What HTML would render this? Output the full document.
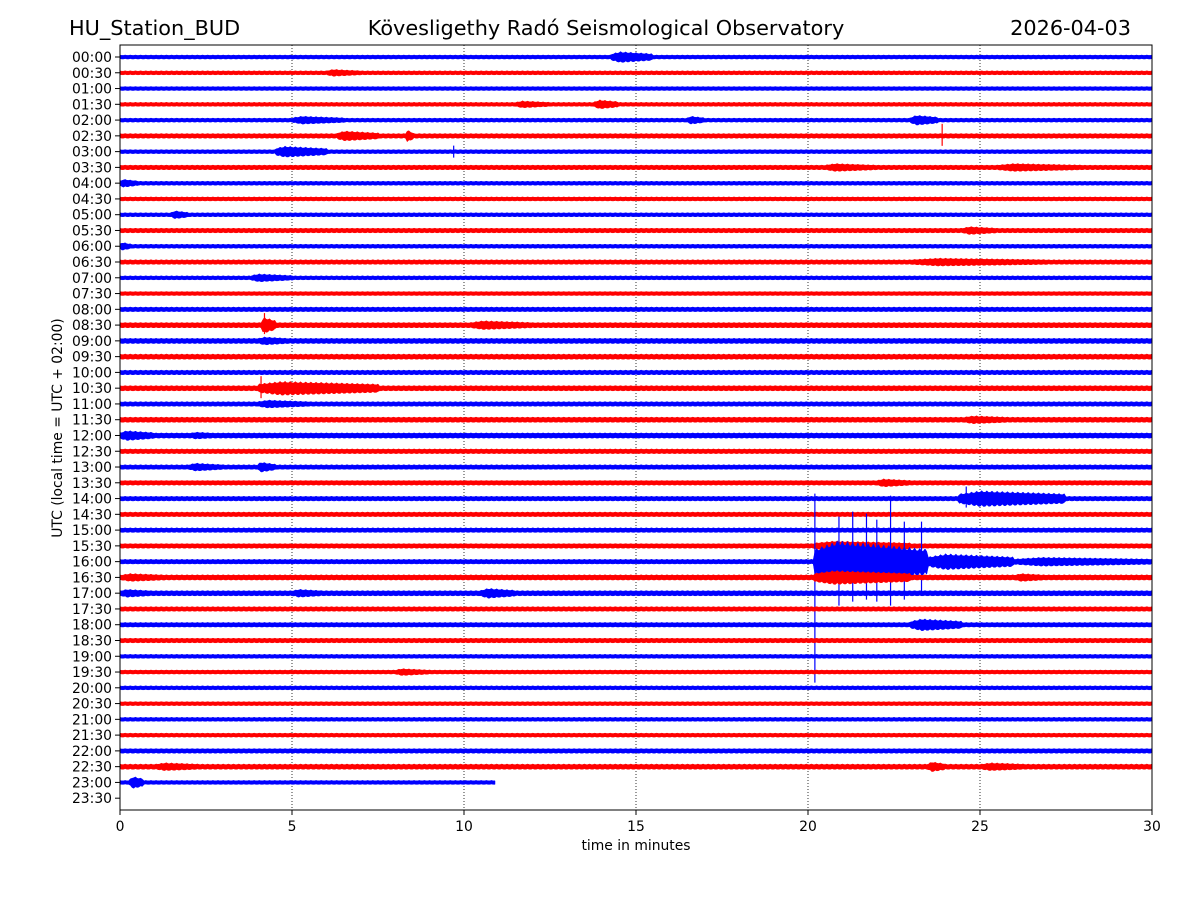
<!DOCTYPE html>
<html><head><meta charset="utf-8"><style>
html,body{margin:0;padding:0;background:#fff;}
svg{display:block;font-family:"DejaVu Sans","Liberation Sans",sans-serif;}
</style></head><body>
<svg id="chart" width="1200" height="900" viewBox="0 0 1200 900" xmlns="http://www.w3.org/2000/svg">
<rect width="1200" height="900" fill="#fff"/>
<text x="69" y="35" font-size="20.8">HU_Station_BUD</text>
<text x="606" y="35" font-size="20.8" text-anchor="middle">Kövesligethy Radó Seismological Observatory</text>
<text x="1131" y="35" font-size="20.8" text-anchor="end">2026-04-03</text>
<g id="grid"></g>
<g id="traces"></g>
<rect x="120" y="45" width="1032" height="765" fill="none" stroke="#000" stroke-width="1"/>
<g id="axes"></g>
<text x="636" y="850" font-size="13.9" text-anchor="middle">time in minutes</text>
<text transform="translate(62,428) rotate(-90)" font-size="13.9" text-anchor="middle">UTC (local time = UTC + 02:00)</text>
</svg>
<script>
const rowLabels=[];for(let h=0;h<24;h++){const s=String(h).padStart(2,'0');rowLabels.push(s+':00');rowLabels.push(s+':30');}
const xTicks=[0,5,10,15,20,25,30];
// base half-amplitude per row (px)
const baseAmp=[2,2,2,2,2,2.3,2,2.3,2,2,2,2.3,2,2.3,2,2,2.3,2.6,2.6,2.6,2.3,2.6,2.3,2.6,2.6,2.3,2.3,2.3,2.3,2.3,2.3,2.3,2.3,2.6,2.6,2.3,2.3,2.3,2,2,2,2,2,2,2.3,2.6,2];
// events: [row, startMin, endMin, halfAmp]
const events=[[0,14.3,15.5,5.5],[1,6,7,3.5],[3,11.5,12.5,3.5],[3,13.8,14.5,4.5],[4,5,6.5,4],[4,16.5,17,4],[4,23,23.8,5],
[5,6.3,7.5,5],[5,8.3,8.5,6],[6,4.5,6,5.5],[7,20.5,22,4],[7,25.5,28,4],[8,0,0.5,4],[10,1.5,2,4],[11,24.5,25.5,4],[12,0,0.3,4],
[13,23,27,4],[14,3.8,5,4],[17,4.1,4.5,8],[17,10.2,12,4.5],[18,4,5,4],[21,4,7.5,7],[22,4,5.5,4],[23,24.5,26,4],
[24,0,1,5],[24,2,3,3.5],[26,2,3,4],[26,4,4.5,5],[27,22,23,4],[28,24.4,27.5,8],[31,20.2,23,5],
[32,20.2,23.5,21],[32,23.5,26,8],[32,26,30,4.5],[33,0,1.5,4],[33,20.2,23,7],[33,26,27,4],[34,0,1,4],[34,5,6,4],[34,10.5,11.5,5],
[36,23,24.5,6],[39,8,9,3.5],[45,1,2.5,4],[45,23.5,24,5],[45,25,26.5,4],[46,0.3,0.7,6]];
// spikes: [row, minute, upPx, downPx]
const spikes=[[5,23.9,12,10],[6,9.7,6,6],[17,4.2,12,9],[21,4.1,12,10],[28,24.6,12,9],
[32,20.2,68,121],[32,20.9,45,44],[32,21.3,50,40],[32,21.7,48,38],[32,22.0,42,40],[32,22.4,66,44],[32,22.8,40,38],[32,23.3,40,30]];
const traceEnd=[];for(let i=0;i<48;i++)traceEnd.push(i===46?10.9:(i===47?0:30));

const NS='http://www.w3.org/2000/svg';
const x0=120,x1=1152,yTop=57,rowH=15.77;
const xs=m=>x0+m*(x1-x0)/30;
const ys=r=>yTop+r*rowH;
const grid=document.getElementById('grid'),tr=document.getElementById('traces'),ax=document.getElementById('axes');
function mk(tag,attrs,parent){const e=document.createElementNS(NS,tag);for(const k in attrs)e.setAttribute(k,attrs[k]);parent.appendChild(e);return e;}
xTicks.forEach(t=>{
 if(t>0&&t<30){const g=mk('line',{x1:xs(t),x2:xs(t),y1:45,y2:810,stroke:'#000','stroke-width':0.8,'stroke-dasharray':'1,2'},grid);
 
 }
 const tk=mk('line',{x1:xs(t),x2:xs(t),y1:810,y2:815,stroke:'#000'},ax);
 
 
 const lb=mk('text',{x:xs(t),y:831,'font-size':13.9,'text-anchor':'middle'},ax);lb.textContent=t;
 
 
});
rowLabels.forEach((l,i)=>{
 const tk=mk('line',{x1:115,x2:120,y1:ys(i),y2:ys(i),stroke:'#000'},ax);
 
 
 const lb=mk('text',{x:112,y:ys(i)+5,'font-size':13.9,'text-anchor':'end'},ax);lb.textContent=l;
 
 
});
function ampAt(r,m){let a=baseAmp[r];events.forEach(e=>{if(e[0]===r&&m>=e[1]&&m<=e[2]){const w=e[2]-e[1];const u=(m-e[1])/w;const f=u<0.2?0.6+2*u:1-0.4*(u-0.2)/0.8;a=Math.max(a,e[3]*f);}});return a;}
for(let r=0;r<48;r++){
 const end=traceEnd[r];if(end<=0)continue;
 const col=r%2===0?'#0000ff':'#ff0000';
 const top=[],bot=[];
 for(let m=0;m<=end+1e-9;m+=0.05){const a=ampAt(r,m);const k=Math.round(m*20)%3===0?1:0.8;top.push(xs(m).toFixed(1)+','+(ys(r)-a*k).toFixed(1));bot.push(xs(m).toFixed(1)+','+(ys(r)+a*(1.8-k)).toFixed(1));}
 const p=mk('polygon',{points:top.concat(bot.reverse()).join(' '),fill:col,stroke:col,'stroke-width':0.5},tr);
 
 
 spikes.filter(s=>s[0]===r).forEach(s=>{
  const ln=mk('line',{x1:xs(s[1]),x2:xs(s[1]),y1:ys(r)-s[2],y2:ys(r)+s[3],stroke:col,'stroke-width':1.2},tr);
  
  
 });
}
</script>
</body></html>
